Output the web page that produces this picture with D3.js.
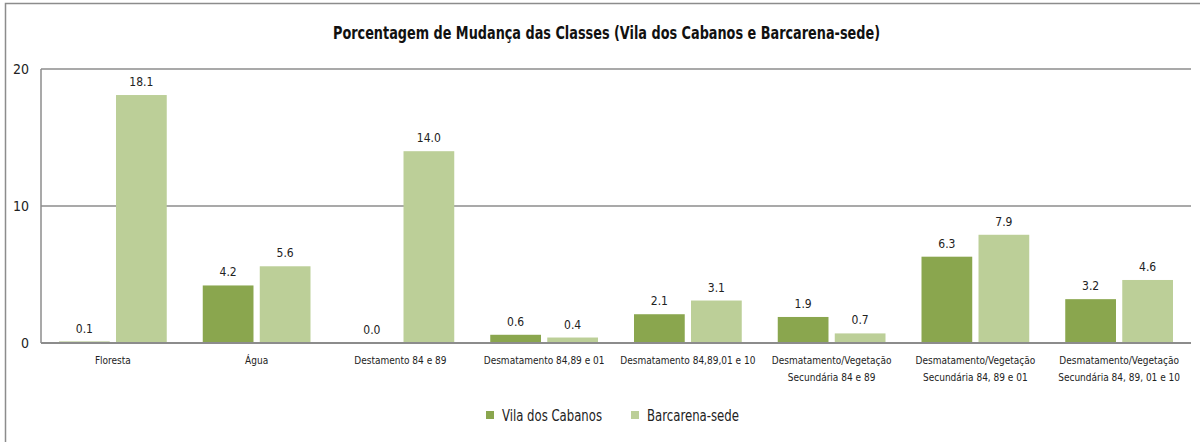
<!DOCTYPE html>
<html>
<head>
<meta charset="utf-8">
<script src="https://cdn.jsdelivr.net/npm/d3@7"></script>
<style>
  body { margin: 0; background: #fff; }
  svg { display: block; font-family: "Liberation Sans Narrow", "DejaVu Sans Condensed", sans-serif; }
</style>
</head>
<body>
<svg id="chart" width="1200" height="442"></svg>
<script>
// data
const categories = [
  ["Floresta"],
  ["Água"],
  ["Destamento 84 e 89"],
  ["Desmatamento 84,89 e 01"],
  ["Desmatamento 84,89,01 e 10"],
  ["Desmatamento/Vegetação", "Secundária 84 e 89"],
  ["Desmatamento/Vegetação", "Secundária 84, 89 e 01"],
  ["Desmatamento/Vegetação", "Secundária 84, 89, 01 e 10"]
];
const seriesNames = ["Vila dos Cabanos", "Barcarena-sede"];
const vilaValues = [0.1, 4.2, 0.0, 0.6, 2.1, 1.9, 6.3, 3.2];
const barcarenaValues = [18.1, 5.6, 14.0, 0.4, 3.1, 0.7, 7.9, 4.6];
const yTicks = [0, 10, 20];
const colors = ["#8aa64e", "#bccf98"];

const svg = d3.select("#chart");
const plotLeft = 41, plotRight = 1191, plotTop = 69, plotBottom = 343;

// frame around the whole figure
svg.append("path")
  .attr("d", "M5.5,442 V3.5 H1200")
  .attr("fill", "none")
  .attr("stroke", "#8c8c8c")
  .attr("stroke-width", 1.5);

// title is squeezed to the reference width (no narrow font installed)
svg.append("text")
  .attr("x", 333).attr("y", 39)
  .attr("font-weight", "bold")
  .attr("font-size", 17)
  .attr("fill", "#111")
  .attr("textLength", 547)
  .attr("lengthAdjust", "spacingAndGlyphs")
  .text("Porcentagem de Mudança das Classes (Vila dos Cabanos e Barcarena-sede)");

const x0 = d3.scaleBand().domain(d3.range(categories.length)).range([plotLeft, plotRight]);
const x1 = d3.scaleBand().domain([0, 1]).range([18, x0.bandwidth() - 18]).paddingInner(0.11);
const y = d3.scaleLinear().domain([0, 20]).range([plotBottom, plotTop]);

// grid lines
svg.selectAll(".grid").data(yTicks.filter(d => d > 0)).enter().append("line")
  .attr("x1", plotLeft).attr("x2", plotRight)
  .attr("y1", d => y(d)).attr("y2", d => y(d))
  .attr("stroke", "#8c8c8c").attr("stroke-width", 1.5);

svg.selectAll(".ytick").data(yTicks).enter().append("text")
  .attr("x", 29).attr("y", d => y(d) + 5)
  .attr("text-anchor", "end")
  .attr("font-size", 14)
  .attr("fill", "#222")
  .text(d => d);

const series = [vilaValues, barcarenaValues];
series.forEach((vals, s) => {
  const g = svg.append("g");
  g.selectAll("rect").data(vals).enter().append("rect")
    .attr("x", (d, i) => x0(i) + x1(s))
    .attr("width", x1.bandwidth())
    .attr("y", d => y(d))
    .attr("height", d => plotBottom - y(d))
    .attr("fill", colors[s]);
  g.selectAll("text").data(vals).enter().append("text")
    .attr("x", (d, i) => x0(i) + x1(s) + x1.bandwidth() / 2)
    .attr("y", d => y(d) - 9)
    .attr("text-anchor", "middle")
    .attr("font-size", 12)
    .attr("fill", "#222")
    .text(d => d.toFixed(1));
});

// axes lines
svg.append("line")
  .attr("x1", plotLeft).attr("x2", plotLeft).attr("y1", plotTop).attr("y2", plotBottom)
  .attr("stroke", "#8c8c8c").attr("stroke-width", 1.5);
svg.append("line")
  .attr("x1", plotLeft).attr("x2", plotRight).attr("y1", plotBottom).attr("y2", plotBottom)
  .attr("stroke", "#8c8c8c").attr("stroke-width", 2);

// category labels
const cat = svg.selectAll(".cat").data(categories).enter().append("text")
  .attr("x", (d, i) => x0(i) + x0.bandwidth() / 2)
  .attr("y", 364)
  .attr("text-anchor", "middle")
  .attr("font-size", 10)
  .attr("fill", "#222");
cat.selectAll("tspan").data(d => d).enter().append("tspan")
  .attr("x", function() { return d3.select(this.parentNode).attr("x"); })
  .attr("dy", (d, i) => i === 0 ? 0 : 17)
  .text(d => d);

// legend
const legendX = [486, 631];
const legendW = [100, 92];
seriesNames.forEach((name, s) => {
  svg.append("rect")
    .attr("x", legendX[s]).attr("y", 411)
    .attr("width", 8).attr("height", 8)
    .attr("fill", colors[s]);
  svg.append("text")
    .attr("x", legendX[s] + 16).attr("y", 421)
    .attr("font-size", 15)
    .attr("fill", "#222")
    .attr("textLength", legendW[s])
    .attr("lengthAdjust", "spacingAndGlyphs")
    .text(name);
});
</script>
</body>
</html>
